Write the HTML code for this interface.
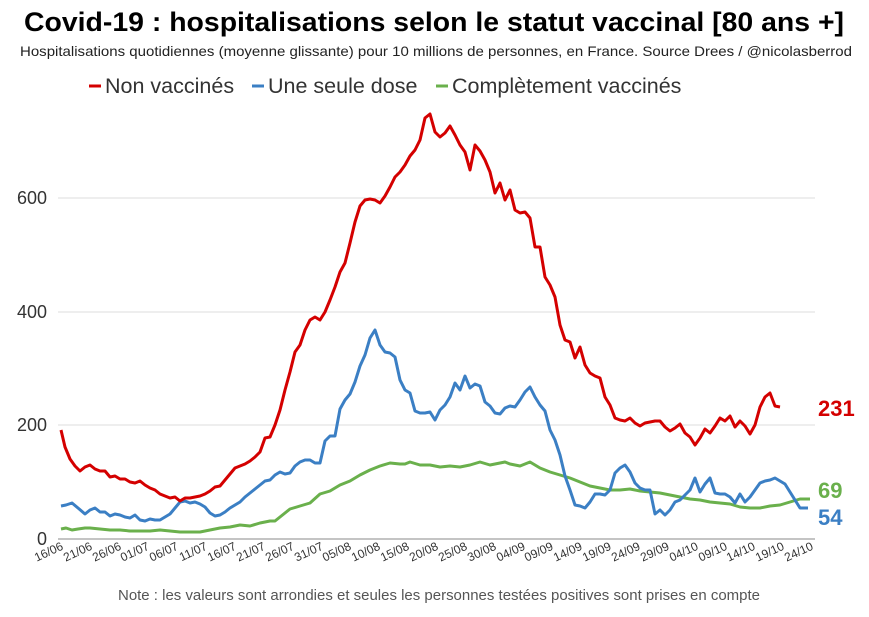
<!DOCTYPE html>
<html><head><meta charset="utf-8"><style>
body{margin:0;background:#fff;width:869px;height:612px;overflow:hidden;font-family:"Liberation Sans",Arial,sans-serif}
</style></head><body>
<svg width="869" height="612" xmlns="http://www.w3.org/2000/svg" font-family="Liberation Sans, Arial, sans-serif">
<text x="434" y="31" text-anchor="middle" font-size="26.5" font-weight="bold" fill="#000" textLength="820" lengthAdjust="spacingAndGlyphs">Covid-19 : hospitalisations selon le statut vaccinal [80 ans +]</text>
<text x="436" y="56" text-anchor="middle" font-size="14" fill="#222" textLength="832" lengthAdjust="spacingAndGlyphs">Hospitalisations quotidiennes (moyenne glissante) pour 10 millions de personnes, en France. Source Drees / @nicolasberrod</text>
<g font-size="21.5" fill="#333">
<line x1="89" y1="86" x2="101" y2="86" stroke="#d40000" stroke-width="3"/><text x="105" y="93">Non vaccinés</text>
<line x1="252" y1="86" x2="264" y2="86" stroke="#3b7fc4" stroke-width="3"/><text x="268" y="93">Une seule dose</text>
<line x1="436" y1="86" x2="448" y2="86" stroke="#6ab04c" stroke-width="3"/><text x="452" y="93">Complètement vaccinés</text>
</g>
<g stroke="#ddd" stroke-width="1">
<line x1="58" y1="425" x2="815" y2="425"/><line x1="58" y1="312" x2="815" y2="312"/><line x1="58" y1="198" x2="815" y2="198"/>
</g>
<line x1="58" y1="539" x2="815" y2="539" stroke="#888" stroke-width="1"/>
<g font-size="18" fill="#333" text-anchor="end">
<text x="47" y="545">0</text><text x="47" y="431">200</text><text x="47" y="318">400</text><text x="47" y="204">600</text>
</g>
<polyline fill="none" stroke="#6ab04c" stroke-width="3" stroke-linejoin="round" points="61,529 66,528 72,530 78,529 85,528 90,528 100,529 110,530 120,530 130,531 140,531 150,531 160,530 170,531 180,532 190,532 200,532 210,530 220,528 230,527 240,525 250,526 260,523 270,521 275,521 280,517 290,509 300,506 310,503 320,494 330,491 340,485 350,481 360,475 370,470 380,466 390,463 400,464 405,464 410,462 420,465 430,465 440,467 450,466 460,467 470,465 480,462 490,465 500,463 505,462 510,464 520,466 530,462 540,468 550,472 560,475 570,478 580,482 590,486 600,488 610,490 620,490 630,489 640,491 650,492 660,493 670,495 680,497 690,499 700,500 710,502 720,503 730,504 740,507 750,508 760,508 770,506 780,505 790,502 800,499 810,499"/>
<polyline fill="none" stroke="#3b7fc4" stroke-width="3" stroke-linejoin="round" points="61,506 66,505 72,503 78,508 85,514 90,510 95,508 100,512 105,512 110,516 115,514 120,515 125,517 130,518 135,515 140,520 145,521 150,519 155,520 160,520 165,517 170,514 175,508 180,502 185,501 190,503 195,502 200,504 205,507 210,513 215,516 220,515 225,512 230,508 235,505 240,502 245,497 250,493 255,489 260,485 265,481 270,480 275,475 280,472 285,474 290,473 295,466 300,462 305,460 310,460 315,463 320,463 325,441 330,436 335,436 340,409 345,400 350,394 355,382 360,366 365,355 370,338 375,330 380,345 385,352 390,353 395,357 400,380 405,390 410,393 415,411 420,413 425,413 430,412 435,420 440,410 445,405 450,397 455,383 460,390 465,376 470,388 475,384 480,386 485,402 490,406 495,413 500,414 505,408 510,406 515,407 520,400 525,392 530,387 535,397 540,405 545,411 550,430 555,440 560,455 565,476 570,490 575,505 580,506 585,508 590,502 595,494 600,494 605,495 610,490 615,473 620,468 625,465 630,472 635,483 640,488 645,490 650,490 655,514 660,510 665,515 670,510 675,502 680,500 685,495 690,490 695,478 700,492 705,484 710,478 715,493 720,494 725,494 730,497 735,503 740,494 745,502 750,497 755,490 760,483 765,481 770,480 775,478 780,481 785,484 790,492 795,500 800,508 808,508"/>
<polyline fill="none" stroke="#d40000" stroke-width="3" stroke-linejoin="round" points="61,430 65,447 70,459 75,466 80,471 85,467 90,465 95,469 100,471 105,471 110,477 115,476 120,479 125,479 130,482 135,483 140,481 145,485 150,488 155,490 160,494 165,496 170,498 175,497 180,501 185,498 190,498 195,497 200,496 205,494 210,491 215,487 220,486 225,480 230,474 235,468 240,466 245,464 250,461 255,457 260,452 265,438 270,437 275,425 280,410 285,390 290,372 295,352 300,345 305,330 310,320 315,317 320,320 325,312 330,300 335,287 340,272 345,263 350,243 355,222 360,206 365,200 370,199 375,200 380,203 385,196 390,187 395,177 400,172 405,165 410,156 415,150 420,140 425,118 430,114 435,132 440,137 445,133 450,126 455,135 460,145 465,152 470,170 475,145 480,151 485,160 490,172 495,193 500,183 505,200 510,190 515,210 520,213 525,212 530,218 535,247 540,247 545,277 550,285 555,297 560,325 565,340 570,342 575,358 580,347 585,365 590,373 595,376 600,378 605,397 610,405 615,418 620,420 625,421 630,418 635,423 640,426 645,423 650,422 655,421 660,421 665,427 670,431 675,428 680,424 685,433 690,437 695,445 700,438 705,429 710,433 715,426 720,418 725,421 730,416 735,427 740,421 745,426 750,434 755,425 760,407 765,397 770,393 775,406 780,407"/>
<g font-size="22" font-weight="bold">
<text x="818" y="416" fill="#d40000">231</text>
<text x="818" y="498" fill="#6ab04c">69</text>
<text x="818" y="525" fill="#3b7fc4">54</text>
</g>
<text x="439" y="600" text-anchor="middle" font-size="15" fill="#555" textLength="642" lengthAdjust="spacingAndGlyphs">Note : les valeurs sont arrondies et seules les personnes testées positives sont prises en compte</text>
<g font-size="12" fill="#333" text-anchor="end">
<text transform="translate(64,549) rotate(-25)">16/06</text>
<text transform="translate(93,549) rotate(-25)">21/06</text>
<text transform="translate(122,549) rotate(-25)">26/06</text>
<text transform="translate(150,549) rotate(-25)">01/07</text>
<text transform="translate(179,549) rotate(-25)">06/07</text>
<text transform="translate(208,549) rotate(-25)">11/07</text>
<text transform="translate(237,549) rotate(-25)">16/07</text>
<text transform="translate(266,549) rotate(-25)">21/07</text>
<text transform="translate(295,549) rotate(-25)">26/07</text>
<text transform="translate(324,549) rotate(-25)">31/07</text>
<text transform="translate(352,549) rotate(-25)">05/08</text>
<text transform="translate(381,549) rotate(-25)">10/08</text>
<text transform="translate(410,549) rotate(-25)">15/08</text>
<text transform="translate(439,549) rotate(-25)">20/08</text>
<text transform="translate(468,549) rotate(-25)">25/08</text>
<text transform="translate(497,549) rotate(-25)">30/08</text>
<text transform="translate(526,549) rotate(-25)">04/09</text>
<text transform="translate(554,549) rotate(-25)">09/09</text>
<text transform="translate(583,549) rotate(-25)">14/09</text>
<text transform="translate(612,549) rotate(-25)">19/09</text>
<text transform="translate(641,549) rotate(-25)">24/09</text>
<text transform="translate(670,549) rotate(-25)">29/09</text>
<text transform="translate(699,549) rotate(-25)">04/10</text>
<text transform="translate(728,549) rotate(-25)">09/10</text>
<text transform="translate(756,549) rotate(-25)">14/10</text>
<text transform="translate(785,549) rotate(-25)">19/10</text>
<text transform="translate(814,549) rotate(-25)">24/10</text>
</g>
</svg>
</body></html>
